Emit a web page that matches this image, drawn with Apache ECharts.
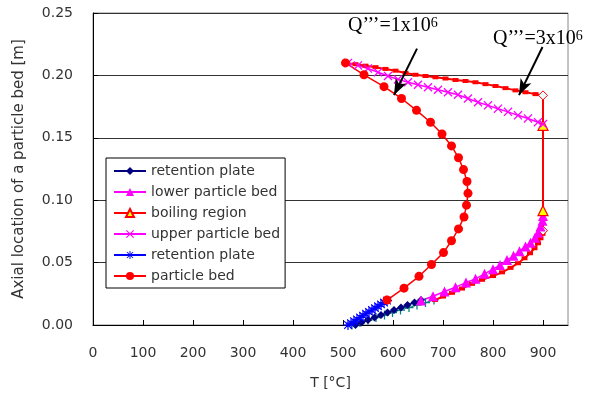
<!DOCTYPE html>
<html>
<head>
<meta charset="utf-8">
<script src="https://cdn.jsdelivr.net/npm/echarts@6/dist/echarts.min.js"></script>
<style>
html, body { margin: 0; padding: 0; background: #fff; }
#chart { width: 601px; height: 397px; }
</style>
</head>
<body>
<div id="chart"></div>
<script>
// all points are [T (°C), z (m)]
const retentionPlateA = [[525,0],[537,0.002],[550,0.004],[563,0.006],[576,0.008],[589,0.010],[602,0.012],[616,0.014],[629,0.016],[643,0.018],[656,0.020]];
const lowerBed = [[656,0.0196],[680,0.023],[703,0.0268],[725,0.0303],[746,0.034],[765,0.037],[783,0.041],[800,0.0447],[814,0.048],[828,0.052],[841,0.0554],[853,0.059],[865,0.063],[875,0.066],[884,0.070],[890,0.074],[895,0.079],[899,0.0836],[900,0.0874]];
const boilingRegion = [[900,0.0916],[900,0.160]];
const upperBed = [[900,0.161],[890,0.1625],[870,0.1655],[850,0.168],[830,0.1708],[810,0.1733],[790,0.176],[770,0.1785],[750,0.1815],[730,0.1845],[710,0.1865],[690,0.1885],[670,0.1905],[650,0.1925],[630,0.1945],[610,0.1968],[590,0.1995],[570,0.2025],[550,0.2055],[530,0.208],[510,0.210]];
const retentionPlateB = [[510,0],[516,0.0015],[522,0.003],[528,0.0045],[534,0.006],[540,0.0075],[546,0.009],[552,0.0105],[558,0.012],[564,0.0135],[570,0.015],[576,0.0165],[582,0.018],[588,0.0195]];
const particleBed = [[588,0.020],[622,0.0295],[652,0.039],[677,0.0485],[701,0.058],[717,0.0675],[731,0.077],[742,0.0865],[747,0.096],[750,0.1055],[748,0.115],[741,0.1245],[731,0.134],[717,0.1435],[698,0.153],[675,0.1625],[647,0.172],[617,0.1815],[582,0.191],[542,0.2005],[505,0.210]];

// Q'''=3x10^6 case
const q3Plate = [[518,0],[534,0.002],[550,0.004],[566,0.006],[583,0.008],[599,0.010],[615,0.012],[632,0.014],[648,0.016],[665,0.018],[682,0.020]];
const q3Lower = [[684,0.020],[700,0.0228],[718,0.0258],[738,0.0292],[758,0.033],[778,0.0362],[800,0.0392],[818,0.0422],[835,0.0458],[850,0.0495],[863,0.0535],[874,0.0575],[883,0.0615],[890,0.0655],[895,0.0695],[899,0.073],[900,0.0756]];
const q3Upper = [[900,0.184],[885,0.185],[865,0.1865],[845,0.188],[825,0.1898],[805,0.1915],[785,0.193],[765,0.1945],[745,0.1955],[725,0.1963],[705,0.1975],[685,0.1985],[665,0.1995],[645,0.2005],[625,0.202],[605,0.2038],[585,0.2052],[565,0.2066],[545,0.2078],[525,0.209],[505,0.210]];

const xTicks = [0, 950, 100];
const yTicks = [0, 0.25, 0.05];

// annotation arrows, [from, to]
const arrows = [
  [[648, 0.2215], [602, 0.1842]],
  [[899, 0.2228], [852, 0.1842]]
];

const font = '"DejaVu Sans", sans-serif';
const serif = '"Liberation Serif", serif';
const crossPath = 'path://M0,1L1,0L5,4L9,0L10,1L6,5L10,9L9,10L5,6L1,10L0,9L4,5Z';
const plusPath = 'path://M4.3,0h1.4v10h-1.4z M0,4.3h10v1.4h-10z';
const starPath = 'path://M4.4,0h1.2v10h-1.2z M0,4.4h10v1.2h-10z M0.8,1.6L1.6,0.8L9.2,8.4L8.4,9.2Z M8.4,0.8L9.2,1.6L1.6,9.2L0.8,8.4Z';

const q3Data = q3Lower.concat(q3Upper).map(p => p[0] === 900 && (p[1] === 0.0756 || p[1] === 0.184)
  ? { value: p, symbol: 'diamond', symbolSize: 9, itemStyle: { color: '#e8ffff', borderColor: '#ff0000', borderWidth: 1 } }
  : p);

const qRich = {
  a: { fontFamily: serif, fontSize: 20, fill: '#000' },
  b: { fontFamily: serif, fontSize: 14, fill: '#000', verticalAlign: 'top' }
};

const chart = echarts.init(document.getElementById('chart'));
chart.setOption({
  animation: false,
  grid: { left: 93, right: 33, top: 13, bottom: 72, show: true, borderColor: '#888', borderWidth: 1 },
  legend: {
    data: ['retention plate', 'lower particle bed', 'boiling region', 'upper particle bed', 'retention plate ', 'particle bed'],
    orient: 'vertical',
    left: 106, top: 158,
    padding: [6, 5, 5, 7],
    itemWidth: 32, itemHeight: 10, itemGap: 7,
    backgroundColor: '#fff',
    borderColor: '#000', borderWidth: 1,
    textStyle: { fontFamily: font, fontSize: 14, color: '#333' }
  },
  xAxis: {
    type: 'value', min: xTicks[0], max: xTicks[1], interval: xTicks[2],
    name: 'T [°C]', nameLocation: 'middle', nameGap: 51,
    nameTextStyle: { fontFamily: font, fontSize: 14, color: '#333' },
    axisLine: { lineStyle: { color: '#000' } },
    axisTick: { inside: true, length: 5, lineStyle: { color: '#000' } },
    axisLabel: { margin: 21, showMaxLabel: false, fontFamily: font, fontSize: 14, color: '#333' },
    splitLine: { show: false }
  },
  yAxis: {
    type: 'value', min: yTicks[0], max: yTicks[1], interval: yTicks[2],
    name: 'Axial location of a particle bed [m]', nameLocation: 'middle', nameGap: 66,
    nameTextStyle: { fontFamily: font, fontSize: 15, color: '#333' },
    axisLine: { show: true, lineStyle: { color: '#000' } },
    axisTick: { show: true, inside: true, length: 5, lineStyle: { color: '#000' } },
    axisLabel: { margin: 20, fontFamily: font, fontSize: 14, color: '#333', formatter: v => v.toFixed(2) },
    splitLine: { lineStyle: { color: '#333', width: 1 } }
  },
  graphic: [
    { type: 'text', left: 348, top: 16, style: { text: '{a|Q’’’=1x10}{b|6}', rich: qRich } },
    { type: 'text', left: 493, top: 29, style: { text: '{a|Q’’’=3x10}{b|6}', rich: qRich } }
  ],
  series: [
    {
      name: 'q3 plate', type: 'line', data: q3Plate,
      symbol: plusPath, symbolSize: 9,
      itemStyle: { color: '#008080' }, lineStyle: { color: '#008080', width: 1 }
    },
    {
      name: 'q3 bed', type: 'line', data: q3Data,
      symbol: 'rect', symbolSize: [6, 4],
      itemStyle: { color: '#ff0000' }, lineStyle: { color: '#ff0000', width: 2 },
      markLine: {
        silent: true, symbol: ['none', 'arrow'], symbolSize: [9, 16],
        label: { show: false },
        lineStyle: { color: '#000', width: 2, type: 'solid' },
        data: arrows.map(a => [{ coord: a[0] }, { coord: a[1] }])
      }
    },
    {
      name: 'retention plate', type: 'line', data: retentionPlateA,
      symbol: 'diamond', symbolSize: 8,
      itemStyle: { color: '#000080' }, lineStyle: { color: '#000080', width: 1.5 }
    },
    {
      name: 'lower particle bed', type: 'line', data: lowerBed,
      symbol: 'triangle', symbolSize: 10,
      itemStyle: { color: '#ff00ff' }, lineStyle: { color: '#ff00ff', width: 1.5 }
    },
    {
      name: 'boiling region', type: 'line', data: boilingRegion,
      symbol: 'triangle', symbolSize: 10,
      itemStyle: { color: '#ffff00', borderColor: '#ff0000', borderWidth: 1.2 },
      lineStyle: { color: '#ff0000', width: 1.5 }
    },
    {
      name: 'upper particle bed', type: 'line', data: upperBed,
      symbol: crossPath, symbolSize: 9,
      itemStyle: { color: '#ff00ff' }, lineStyle: { color: '#ff00ff', width: 1.5 }
    },
    {
      name: 'retention plate ', type: 'line', data: retentionPlateB,
      symbol: starPath, symbolSize: 10,
      itemStyle: { color: '#0000ff' }, lineStyle: { color: '#0000ff', width: 1.5 }
    },
    {
      name: 'particle bed', type: 'line', data: particleBed,
      symbol: 'circle', symbolSize: 9,
      itemStyle: { color: '#ff0000' }, lineStyle: { color: '#ff0000', width: 1.5 }
    }
  ]
});
</script>
</body>
</html>
